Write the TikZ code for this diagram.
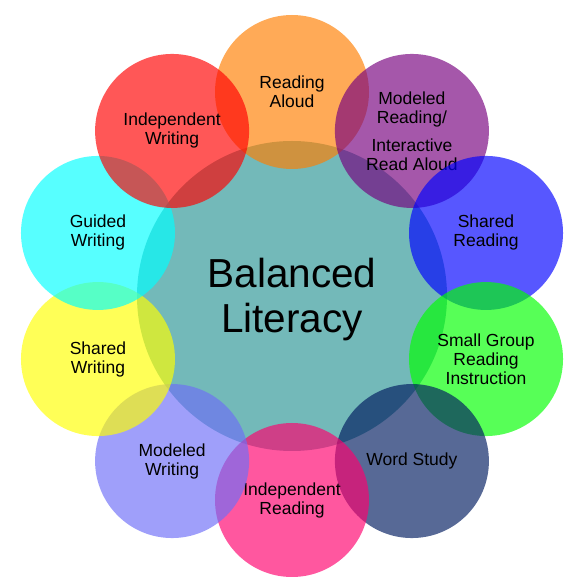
\documentclass[tikz,border=0pt]{standalone}
\usepackage{fontspec}
\setmainfont{Liberation Sans}
\usetikzlibrary{positioning,calc}
\definecolor{tealC}{RGB}{115,185,185}
\definecolor{orangeC}{RGB}{255,126,0}
\definecolor{violetC}{RGB}{118,0,126}
\definecolor{bleuC}{RGB}{0,0,255}
\definecolor{vertC}{RGB}{0,255,0}
\definecolor{marineC}{RGB}{0,27,95}
\definecolor{roseC}{RGB}{255,0,110}
\definecolor{lavandeC}{RGB}{110,110,247}
\definecolor{jauneC}{RGB}{255,255,0}
\definecolor{cyanC}{RGB}{0,255,255}
\definecolor{rougeC}{RGB}{255,0,0}
\tikzset{
  coeur/.style={circle, fill=#1, minimum size=310pt, inner sep=0pt,
                align=center, font=\fontsize{40.5}{45}\selectfont},
  bulle/.style={circle, fill=#1, fill opacity=0.66, text opacity=1, minimum size=154pt,
                inner sep=0pt, align=center, font=\fontsize{17.5}{19}\selectfont},
}

\begin{document}
\begin{tikzpicture}[x=1pt,y=1pt]
    \useasboundingbox (0,0) rectangle (576,587);
    \node[coeur=tealC] (bl) at (292,291) {\rule{0pt}{36pt}Balanced\\Literacy};
    % ring of practices, clockwise from the top
    \node[bulle=orangeC] (ra) at ([shift={(90:204)}]bl.center) {Reading\\Aloud};
    \node[bulle=violetC] (mr) at ([shift={(54:204)}]bl.center)
      {Modeled\\Reading/\\[9pt]Interactive\\Read Aloud};
    \node[bulle=bleuC] (sr) at ([shift={(18:204)}]bl.center) {Shared\\Reading};
    \node[bulle=vertC] (sg) at ([shift={(-18:204)}]bl.center) {Small Group\\Reading\\Instruction};
    \node[bulle=marineC] (ws) at ([shift={(-54:204)}]bl.center) {Word Study};
    \node[bulle=roseC] (ir) at ([shift={(-90:204)}]bl.center) {Independent\\Reading};
    \node[bulle=lavandeC] (mw) at ([shift={(-126:204)}]bl.center) {Modeled\\Writing};
    \node[bulle=jauneC] (sw) at ([shift={(-162:204)}]bl.center) {Shared\\Writing};
    \node[bulle=cyanC] (gw) at ([shift={(162:204)}]bl.center) {Guided\\Writing};
    \node[bulle=rougeC] (iw) at ([shift={(126:204)}]bl.center) {Independent\\Writing};
\end{tikzpicture}
\end{document}
